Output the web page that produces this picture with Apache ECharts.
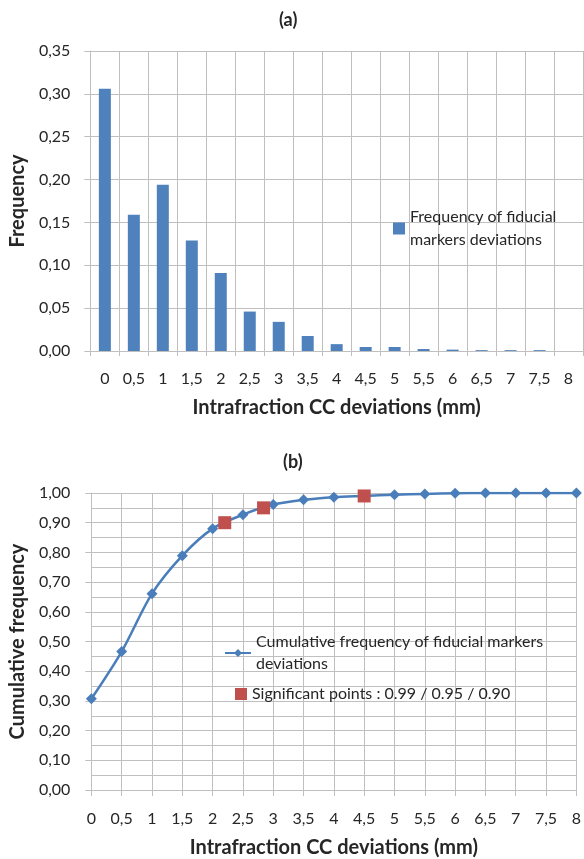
<!DOCTYPE html>
<html>
<head>
<meta charset="utf-8">
<script src="https://cdn.jsdelivr.net/npm/echarts@6/dist/echarts.min.js"></script>
<style>
  html, body { margin: 0; padding: 0; background: #fff; }
  #chart { width: 584px; height: 859px; }
</style>
</head>
<body>
<div id="chart"></div>
<script>
// deviation classes (mm)
var categories = ['0', '0,5', '1', '1,5', '2', '2,5', '3', '3,5', '4', '4,5', '5', '5,5', '6', '6,5', '7', '7,5', '8'];
var deviations = [0, 0.5, 1, 1.5, 2, 2.5, 3, 3.5, 4, 4.5, 5, 5.5, 6, 6.5, 7, 7.5, 8];
// (a) frequency per class
var frequency = [0.306, 0.159, 0.194, 0.129, 0.091, 0.046, 0.034, 0.0175, 0.008, 0.0047, 0.0047, 0.0023, 0.0016, 0.001, 0.001, 0.001, 0];
// (b) cumulative frequency
var cumulative = [0.307, 0.466, 0.661, 0.789, 0.880, 0.927, 0.961, 0.977, 0.986, 0.990, 0.994, 0.997, 0.999, 1.0, 1.0, 1.0, 1.0];
// significant points
var sigX = [2.2, 2.84, 4.5];
var sigY = [0.90, 0.95, 0.99];

var textColor = '#262626';
var gridColor = '#bfbfbf';
var fontFamily = 'Lato';

function comma(v, d) {
    return v.toFixed(d).replace('.', ',');
}

var myChart = echarts.init(document.getElementById('chart'));
var chartOption = {
    animation: false,
    textStyle: { fontFamily: fontFamily, color: textColor },
    title: [
        { text: '(a)', left: 279, top: 11, padding: 0, textStyle: { fontSize: 18, fontWeight: 'bold', color: textColor, fontFamily: fontFamily } },
        { text: '(b)', left: 283, top: 453, padding: 0, textStyle: { fontSize: 18, fontWeight: 'bold', color: textColor, fontFamily: fontFamily } }
    ],
    legend: [
        {
            data: [{ name: 'Frequency of fiducial\nmarkers deviations', icon: 'rect' }],
            left: 393, top: 194, padding: 0,
            itemWidth: 12, itemHeight: 12, itemGap: 0,
            selectedMode: false,
            textStyle: { fontSize: 16, color: textColor, lineHeight: 23, padding: [23, 0, 0, 0] }
        },
        {
            data: ['Cumulative frequency of fiducial markers\ndeviations'],
            left: 224, top: 620, padding: 0,
            itemWidth: 26, itemHeight: 10, itemGap: 0,
            selectedMode: false,
            textStyle: { fontSize: 16, color: textColor, lineHeight: 22, padding: [22, 0, 0, 0] }
        },
        {
            data: [{ name: 'Significant points : 0.99 / 0.95 / 0.90', icon: 'rect' }],
            left: 235, top: 683, padding: 0,
            itemWidth: 12, itemHeight: 12, itemGap: 0,
            selectedMode: false,
            textStyle: { fontSize: 16, color: textColor, lineHeight: 22 }
        }
    ],
    grid: [
        { left: 85, right: 1, top: 51, height: 300 },
        { left: 88, right: 6, top: 493, height: 298 }
    ],
    xAxis: [
        {
            type: 'category',
            gridIndex: 0,
            data: categories,
            name: 'Intrafraction CC deviations (mm)',
            nameLocation: 'middle',
            nameGap: 47,
            nameTextStyle: { fontSize: 20, fontWeight: 'bold', color: textColor },
            axisLine: { lineStyle: { color: gridColor } },
            axisTick: { show: true, interval: 0, length: 5, lineStyle: { color: gridColor } },
            axisLabel: { interval: 0, fontSize: 16, color: textColor, margin: 20 },
            splitLine: { show: true, interval: 0, lineStyle: { color: gridColor } }
        },
        {
            type: 'value',
            gridIndex: 1,
            min: 0, max: 8, interval: 0.5,
            name: 'Intrafraction CC deviations (mm)',
            nameLocation: 'middle',
            nameGap: 48,
            nameTextStyle: { fontSize: 20, fontWeight: 'bold', color: textColor },
            axisLine: { lineStyle: { color: gridColor } },
            axisTick: { show: true, length: 6, lineStyle: { color: gridColor } },
            axisLabel: { fontSize: 16, color: textColor, margin: 21, formatter: function (v) { return String(v).replace('.', ','); } },
            splitLine: { show: true, lineStyle: { color: gridColor } }
        }
    ],
    yAxis: [
        {
            type: 'value',
            gridIndex: 0,
            min: 0, max: 0.35, interval: 0.05,
            name: 'Frequency',
            nameLocation: 'middle',
            nameGap: 58,
            nameTextStyle: { fontSize: 20, fontWeight: 'bold', color: textColor },
            axisLine: { show: true, lineStyle: { color: gridColor } },
            axisTick: { show: true, length: 6, lineStyle: { color: gridColor } },
            axisLabel: { fontSize: 16, color: textColor, margin: 20, formatter: function (v) { return comma(v, 2); } },
            splitLine: { show: true, lineStyle: { color: gridColor } }
        },
        {
            type: 'value',
            gridIndex: 1,
            min: 0, max: 1, interval: 0.1,
            name: 'Cumulative frequency',
            nameLocation: 'middle',
            nameGap: 61,
            nameTextStyle: { fontSize: 20, fontWeight: 'bold', color: textColor },
            axisLine: { show: true, lineStyle: { color: gridColor } },
            axisTick: { show: true, length: 6, lineStyle: { color: gridColor } },
            axisLabel: { fontSize: 16, color: textColor, margin: 21, formatter: function (v) { return comma(v, 2); } },
            splitLine: { show: true, lineStyle: { color: gridColor } },
            minorTick: { show: false, splitNumber: 2 },
            minorSplitLine: { show: true, lineStyle: { color: gridColor } }
        }
    ],
    series: [
        {
            name: 'Frequency of fiducial\nmarkers deviations',
            type: 'bar',
            xAxisIndex: 0, yAxisIndex: 0,
            data: frequency,
            barWidth: 12,
            itemStyle: { color: '#4f81bd' }
        },
        {
            name: 'Cumulative frequency of fiducial markers\ndeviations',
            type: 'line',
            xAxisIndex: 1, yAxisIndex: 1,
            data: deviations.map(function (x, i) { return [x, cumulative[i]]; }),
            smooth: 0.3,
            symbol: 'diamond',
            symbolSize: 11,
            lineStyle: { color: '#4a7ebb', width: 2.5 },
            itemStyle: { color: '#4a7ebb' }
        },
        {
            name: 'Significant points : 0.99 / 0.95 / 0.90',
            type: 'scatter',
            xAxisIndex: 1, yAxisIndex: 1,
            data: sigX.map(function (x, i) { return [x, sigY[i]]; }),
            symbol: 'rect',
            symbolSize: 13,
            itemStyle: { color: '#c0504d', opacity: 1 },
            z: 5
        }
    ]
};
myChart.setOption(chartOption);
</script>
</body>
</html>
